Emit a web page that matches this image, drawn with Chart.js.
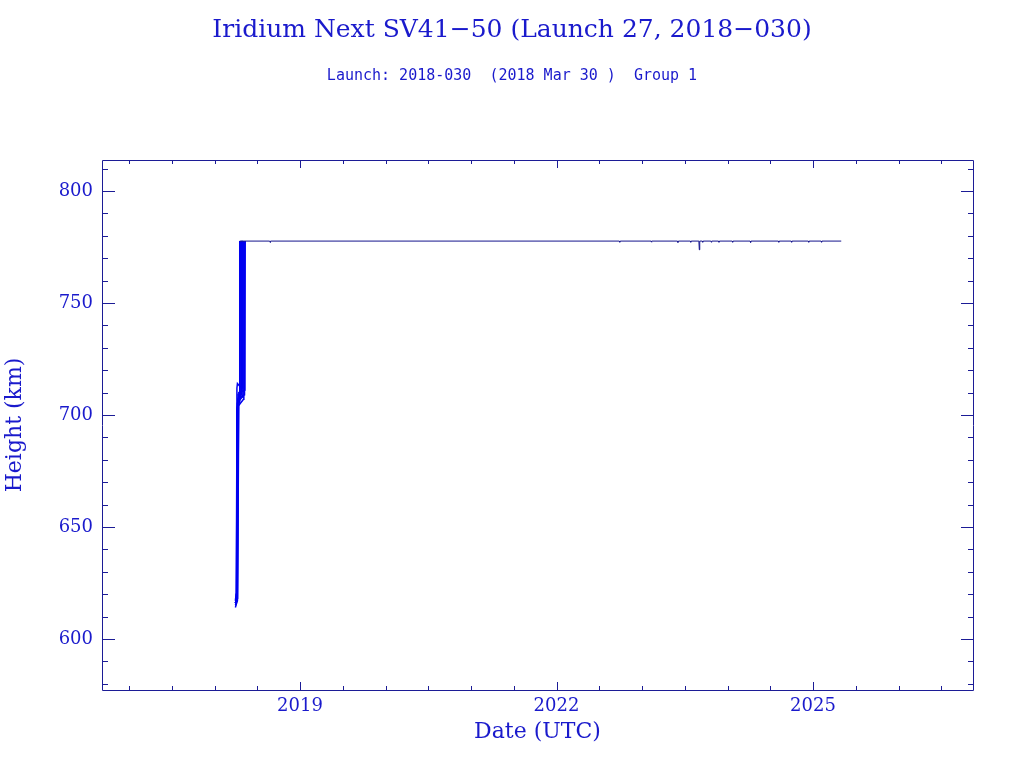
<!DOCTYPE html>
<html>
<head>
<meta charset="utf-8">
<title>Iridium Next SV41-50</title>
<script src="https://cdn.jsdelivr.net/npm/chart.js@4/dist/chart.umd.min.js"></script>
<style>
  html, body { margin: 0; padding: 0; background: #fff; }
  #wrap { width: 1024px; height: 768px; }
</style>
</head>
<body>
<div id="wrap"><canvas id="chart" width="1024" height="768"></canvas></div>
<script>
/* Iridium Next SV41-50 height history */
const TITLE = "Iridium Next SV41\u221250 (Launch 27, 2018\u2212030)";
const SUBTITLE = "Launch: 2018-030  (2018 Mar 30 )  Group 1";

// axis ranges (decimal years / km)
const X_RANGE = [2016.684, 2026.871];
const Y_RANGE = [577.2, 813.8];
const X_LABEL_YEARS = [2019, 2022, 2025];
const Y_LABEL_KM = [600, 650, 700, 750, 800];

// orbit raising per satellite: [decimal year, height km]
const sv41 = [[2018.244,616],[2018.252,617],[2018.260,702],[2018.291,706],[2018.295,777.6]];
const sv42 = [[2018.244,615],[2018.254,616],[2018.263,703],[2018.298,708],[2018.302,777.5]];
const sv43 = [[2018.245,616],[2018.256,618],[2018.266,705],[2018.305,710],[2018.309,777.6]];
const sv44 = [[2018.244,614],[2018.258,616],[2018.269,704],[2018.312,709],[2018.316,777.6]];
const sv45 = [[2018.245,616],[2018.261,619],[2018.272,707],[2018.318,711],[2018.322,777.7]];
const sv46 = [[2018.244,617],[2018.252,620],[2018.262,712],[2018.268,714],[2018.290,713],[2018.325,712],[2018.329,777.6]];
const sv47 = [[2018.245,616],[2018.263,617],[2018.275,709],[2018.331,708],[2018.335,777.6]];
const sv48 = [[2018.244,616],[2018.266,618],[2018.278,704],[2018.339,707],[2018.343,777.6]];
const sv49 = [[2018.245,615],[2018.268,617],[2018.281,706],[2018.347,709],[2018.351,777.5]];
const sv50 = [[2018.244,616],[2018.270,618],[2018.284,710],[2018.355,711],[2018.359,777.6]];

// operational orbit, all satellites overlapping
const onStation = [
  [2018.295,777.6],[2018.645,777.6],[2018.650,777.0],[2018.655,777.6],
  [2022.735,777.6],[2022.740,777.1],[2022.745,777.6],
  [2023.105,777.6],[2023.110,777.1],[2023.115,777.6],
  [2023.415,777.6],[2023.420,777.0],[2023.425,777.6],
  [2023.565,777.6],[2023.570,777.1],[2023.575,777.6],
  [2023.665,777.6],[2023.670,773.7],[2023.675,777.6],
  [2023.705,777.6],[2023.710,777.1],[2023.715,777.6],
  [2023.805,777.6],[2023.810,777.1],[2023.815,777.6],
  [2023.895,777.6],[2023.900,777.1],[2023.905,777.6],
  [2024.055,777.6],[2024.060,777.1],[2024.065,777.6],
  [2024.265,777.6],[2024.270,777.0],[2024.275,777.6],
  [2024.595,777.6],[2024.600,777.1],[2024.605,777.6],
  [2024.745,777.6],[2024.750,777.1],[2024.755,777.6],
  [2024.945,777.6],[2024.950,777.1],[2024.955,777.6],
  [2025.095,777.6],[2025.100,777.1],[2025.105,777.6],
  [2025.330,777.6]
];

const RAISING = [sv41, sv42, sv43, sv44, sv45, sv46, sv47, sv48, sv49, sv50];

const TEXT_COLOR = "#1a1acc";
const AXIS_COLOR = "#1c1c96";
const LINE_COLOR = "#0000f0";
const STATION_COLOR = "#14148c";

const toXY = arr => arr.map(p => ({x: p[0], y: p[1]}));
const lineSet = (arr, w, c) => ({ data: toXY(arr), borderColor: c, borderWidth: w, pointRadius: 0, tension: 0, fill: false });

// IDL-style frame: box on all four sides, inward ticks
const frameTicks = {
  id: "frameTicks",
  afterDraw(chart){
    const {ctx, chartArea: a, scales: {x, y}} = chart;
    ctx.save();
    ctx.strokeStyle = AXIS_COLOR;
    ctx.lineWidth = 1;
    ctx.beginPath();
    ctx.rect(a.left + 0.5, a.top + 0.5, a.right - a.left, a.bottom - a.top);
    x.ticks.forEach(t => {
      const px = Math.round(x.getPixelForValue(t.value)) + 0.5;
      const len = X_LABEL_YEARS.includes(t.value) ? 8 : 4;
      ctx.moveTo(px, a.bottom); ctx.lineTo(px, a.bottom - len);
      ctx.moveTo(px, a.top); ctx.lineTo(px, a.top + len);
    });
    y.ticks.forEach(t => {
      const py = Math.round(y.getPixelForValue(t.value)) + 0.5;
      const len = Y_LABEL_KM.includes(t.value) ? 13 : 6;
      ctx.moveTo(a.left, py); ctx.lineTo(a.left + len, py);
      ctx.moveTo(a.right + 1, py); ctx.lineTo(a.right + 1 - len, py);
    });
    ctx.stroke();
    ctx.restore();
  }
};

new Chart(document.getElementById("chart"), {
  type: "line",
  data: {
    datasets: [lineSet(onStation, 1, STATION_COLOR)].concat(RAISING.map(s => lineSet(s, 1.5, LINE_COLOR)))
  },
  options: {
    responsive: false,
    animation: false,
    plugins: {
      legend: { display: false },
      tooltip: { enabled: false },
      title: {
        display: true, text: TITLE, color: TEXT_COLOR,
        font: { family: "DejaVu Serif", size: 25, weight: "normal" },
        padding: { top: 15, bottom: 22 }
      },
      subtitle: {
        display: true, text: SUBTITLE, color: TEXT_COLOR,
        font: { family: "DejaVu Sans Mono", size: 15, weight: "normal" },
        padding: { top: 0, bottom: 75 }
      }
    },
    scales: {
      x: {
        type: "linear",
        min: X_RANGE[0], max: X_RANGE[1],
        grid: { display: false, drawTicks: false },
        border: { display: false },
        afterFit: s => { s.height = 78; },
        ticks: {
          stepSize: 0.5, autoSkip: false, maxRotation: 0, includeBounds: false,
          padding: 6, color: TEXT_COLOR,
          font: { family: "DejaVu Serif", size: 18 },
          callback: v => X_LABEL_YEARS.includes(v) ? String(v) : ""
        },
        title: {
          display: true, text: "Date (UTC)", color: TEXT_COLOR,
          font: { family: "DejaVu Serif", size: 22 },
          padding: { top: 0, bottom: 23 }
        }
      },
      y: {
        type: "linear",
        min: Y_RANGE[0], max: Y_RANGE[1],
        grid: { display: false, drawTicks: false },
        border: { display: false },
        afterFit: s => { s.width = 102; },
        ticks: {
          stepSize: 10, autoSkip: false, includeBounds: false,
          padding: 9, color: TEXT_COLOR,
          font: { family: "DejaVu Serif", size: 18 },
          callback: v => Y_LABEL_KM.includes(v) ? String(v) : ""
        },
        title: {
          display: true, text: "Height (km)", color: TEXT_COLOR,
          font: { family: "DejaVu Serif", size: 22 },
          padding: { top: 2, bottom: 0 }
        }
      },
      // empty right-hand margin so the titles centre on the full page
      yRight: {
        type: "linear", position: "right", display: true,
        grid: { display: false, drawTicks: false },
        border: { display: false },
        ticks: { display: false },
        afterFit: s => { s.width = 51; }
      }
    }
  },
  plugins: [frameTicks]
});
</script>
</body>
</html>
